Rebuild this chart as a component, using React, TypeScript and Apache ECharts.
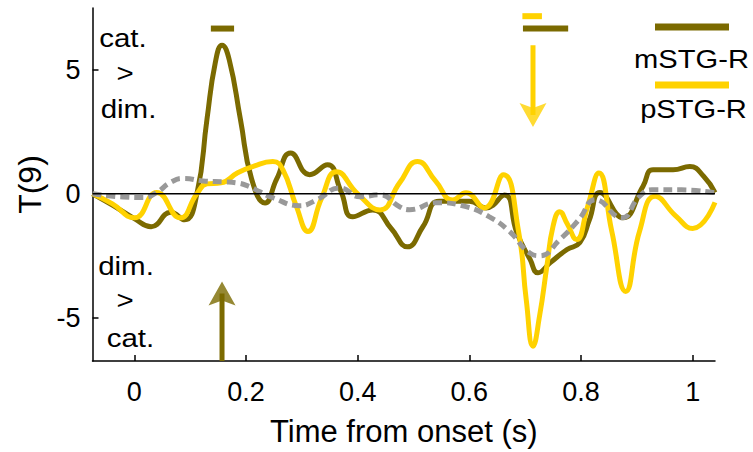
import React, { useEffect, useRef } from "react";
import * as echarts from "echarts";

// ---- data ----
const xTicks = [0, 0.2, 0.4, 0.6, 0.8, 1];
const yTicks = [-5, 0, 5];

const mstgTime = [-0.075, -0.04, 0.0, 0.03, 0.065, 0.09, 0.112, 0.13, 0.145, 0.157, 0.17, 0.19, 0.21, 0.234, 0.255, 0.28, 0.314, 0.346, 0.37, 0.391, 0.427, 0.46, 0.489, 0.517, 0.546, 0.6, 0.63, 0.663, 0.685, 0.709, 0.723, 0.745, 0.775, 0.798, 0.815, 0.834, 0.875, 0.911, 0.929, 0.965, 0.995, 1.02, 1.04];
const mstgValues = [0.0, -0.45, -1.0, -1.33, -0.75, -1.05, 0.0, 3.0, 5.3, 6.0, 5.4, 3.0, 0.6, -0.37, 0.6, 1.65, 0.77, 1.17, 0.1, -0.93, -0.65, -1.4, -2.14, -1.32, -0.3, -0.3, -0.57, -0.05, -1.57, -2.66, -3.19, -2.78, -2.25, -1.97, -1.05, 0.05, -0.97, 0.3, 0.97, 0.97, 1.1, 0.7, 0.05];

const pstgTime = [-0.075, -0.04, 0.0, 0.04, 0.082, 0.112, 0.13, 0.155, 0.185, 0.212, 0.248, 0.266, 0.29, 0.311, 0.335, 0.362, 0.4, 0.44, 0.475, 0.507, 0.54, 0.57, 0.594, 0.627, 0.661, 0.688, 0.702, 0.714, 0.726, 0.739, 0.75, 0.762, 0.775, 0.792, 0.812, 0.832, 0.855, 0.88, 0.905, 0.933, 0.97, 1.0, 1.04];
const pstgValues = [0.0, -0.4, -0.97, 0.05, -0.97, 0.0, 0.4, 0.44, 0.85, 1.1, 1.3, 0.97, -0.5, -1.52, -0.2, 0.89, 0.0, -0.65, 0.44, 1.3, 0.5, -0.25, 0.04, -0.57, 0.77, -1.5, -4.3, -6.15, -4.9, -2.9, -1.3, -0.72, -1.2, -1.85, -0.5, 0.84, -1.5, -3.94, -1.5, -0.1, -0.9, -1.4, -0.35];

const avgTime = [-0.075, -0.02, 0.016, 0.04, 0.064, 0.088, 0.123, 0.159, 0.184, 0.207, 0.225, 0.248, 0.296, 0.327, 0.368, 0.404, 0.44, 0.475, 0.493, 0.541, 0.594, 0.636, 0.671, 0.709, 0.726, 0.762, 0.796, 0.826, 0.873, 0.904, 0.927, 0.98, 1.04];
const avgValues = [0.0, -0.13, -0.15, 0.05, 0.45, 0.62, 0.52, 0.48, 0.44, 0.28, 0.08, -0.16, -0.48, -0.24, 0.24, -0.12, -0.04, -0.52, -0.64, -0.36, -0.52, -0.93, -1.5, -2.4, -2.5, -1.85, -1.05, -0.24, -0.97, -0.12, 0.16, 0.16, 0.04];

// significance bars: [start, end, level]
const sigMstg = [
  [0.137, 0.1786, 6.67],
  [0.696, 0.777, 6.67],
];
const sigPstg = [[0.695, 0.73, 7.17]];

// arrows: time, from, to (tip)
const arrowTime = [0.157, 0.714];
const arrowFrom = [-6.75, 6.0];
const arrowTo = [-3.54, 2.7];

const OLIVE = "#7b6a00";
const YELLOW = "#ffd200";
const GRAY = "#999999";
const FONT = "'Liberation Sans', Arial, sans-serif";

const zip = (a: number[], b: number[]) => a.map((v, i) => [v, b[i]]);

export default function App() {
  const ref = useRef<HTMLDivElement>(null);
  useEffect(() => {
    const chart = echarts.init(ref.current!, null, { renderer: "svg" });
    const headHalf = 0.483; // half of arrow head height in data units
    const arrowColors = [OLIVE, YELLOW];
    const shaftSeries = arrowTime.map((t, i) => {
      const dir = arrowTo[i] > arrowFrom[i] ? 1 : -1;
      return {
        type: "line",
        data: [
          [t, arrowFrom[i]],
          [t, arrowTo[i] - dir * headHalf],
        ],
        symbol: "none",
        lineStyle: { color: arrowColors[i], width: 5, cap: "butt" },
        z: 6,
        silent: true,
      };
    });
    const headSeries = {
      type: "scatter",
      data: arrowTime.map((t, i) => {
        const dir = arrowTo[i] > arrowFrom[i] ? 1 : -1;
        return {
          value: [t, arrowTo[i] - dir * headHalf],
          symbolRotate: dir > 0 ? 0 : 180,
          itemStyle: { color: arrowColors[i] },
        };
      }),
      symbol: "path://M14,0 L28,24 L14,19 L0,24 Z",
      symbolSize: [27, 24],
      z: 7,
      silent: true,
    };
    const sigSeries = [
      ...sigMstg.map((s) => ({ s, c: OLIVE })),
      ...sigPstg.map((s) => ({ s, c: YELLOW })),
    ].map(({ s, c }) => ({
      type: "line",
      data: [
        [s[0], s[2]],
        [s[1], s[2]],
      ],
      symbol: "none",
      lineStyle: { color: c, width: 6, cap: "butt" },
      z: 6,
      silent: true,
    }));

    const txt = (text: string, x: number, y: number, size: number, sx: number) => ({
      type: "text",
      x,
      y,
      scaleX: sx,
      style: {
        text,
        fontSize: size,
        fontFamily: FONT,
        fill: "#000",
        align: "center",
        verticalAlign: "middle",
      },
      z: 10,
    });

    chart.setOption({
      animation: false,
      backgroundColor: "#fff",
      grid: { left: 92.5, right: 38, top: 8, bottom: 90 },
      xAxis: {
        type: "value",
        min: -0.075,
        max: 1.04,
        name: "Time from onset (s)",
        nameLocation: "middle",
        nameGap: 55,
        nameTextStyle: { fontSize: 31, fontFamily: FONT, color: "#000" },
        axisLine: { show: true, onZero: false, lineStyle: { color: "#000", width: 1.5 } },
        axisTick: { show: true, inside: true, length: 6, customValues: xTicks, lineStyle: { color: "#000", width: 1.5 } },
        axisLabel: { customValues: xTicks, fontSize: 27, fontFamily: FONT, color: "#000", margin: 17 },
        splitLine: { show: false },
      },
      yAxis: {
        type: "value",
        min: -6.75,
        max: 7.5,
        name: "T(9)",
        nameLocation: "middle",
        nameGap: 46,
        nameRotate: 90,
        nameTextStyle: { fontSize: 32, fontFamily: FONT, color: "#000" },
        axisLine: { show: true, onZero: false, lineStyle: { color: "#000", width: 1.5 } },
        axisTick: { show: true, inside: true, length: 6, customValues: yTicks, lineStyle: { color: "#000", width: 1.5 } },
        axisLabel: { customValues: yTicks, fontSize: 27, fontFamily: FONT, color: "#000", margin: 12 },
        splitLine: { show: false },
      },
      series: [
        {
          name: "mSTG-R",
          type: "line",
          data: zip(mstgTime, mstgValues),
          smooth: 0.5,
          symbol: "none",
          lineStyle: { color: OLIVE, width: 5 },
          z: 2,
        },
        {
          name: "pSTG-R",
          type: "line",
          data: zip(pstgTime, pstgValues),
          smooth: 0.5,
          symbol: "none",
          lineStyle: { color: YELLOW, width: 5 },
          z: 3,
        },
        {
          name: "average",
          type: "line",
          data: zip(avgTime, avgValues),
          smooth: 0.5,
          symbol: "none",
          lineStyle: { color: GRAY, width: 5, type: [9, 5] },
          z: 4,
        },
        {
          name: "zero",
          type: "line",
          data: [
            [-0.075, 0],
            [1.04, 0],
          ],
          symbol: "none",
          lineStyle: { color: "#000", width: 1.5 },
          z: 5,
          silent: true,
        },
        ...sigSeries,
        ...shaftSeries,
        headSeries,
      ],
      graphic: [
        txt("cat.", 123, 38, 25, 1.18),
        txt(">", 125, 73, 25, 1.18),
        txt("dim.", 128.5, 109.5, 25, 1.18),
        txt("dim.", 126, 266, 25, 1.18),
        txt(">", 125, 300, 25, 1.18),
        txt("cat.", 130.5, 338, 25, 1.18),
        {
          type: "line",
          shape: { x1: 655, y1: 27, x2: 729, y2: 27 },
          style: { stroke: OLIVE, lineWidth: 7 },
          z: 10,
        },
        {
          type: "line",
          shape: { x1: 655, y1: 85, x2: 729, y2: 85 },
          style: { stroke: YELLOW, lineWidth: 7 },
          z: 10,
        },
        txt("mSTG-R", 691.5, 59, 26, 1.12),
        txt("pSTG-R", 693.5, 109, 26, 1.12),
      ],
    });
    return () => chart.dispose();
  }, []);
  return (
    <div
      ref={ref}
      style={{ position: "absolute", left: 0, top: 0, width: 753, height: 452 }}
    />
  );
}
